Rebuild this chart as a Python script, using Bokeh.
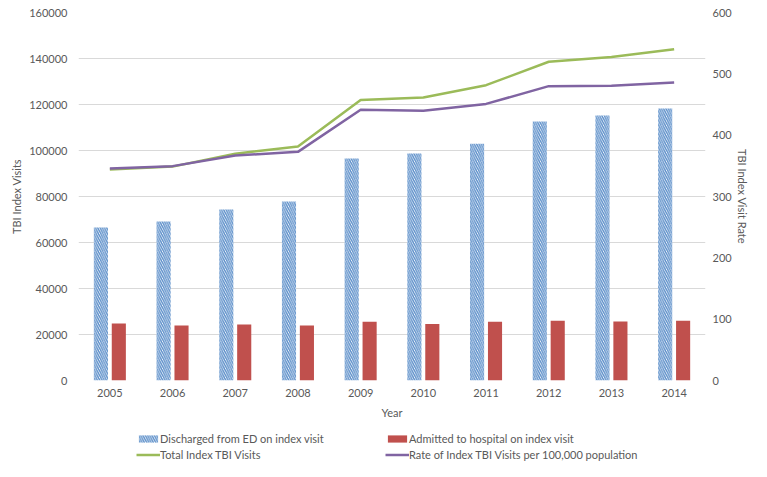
import numpy as np
from bokeh.plotting import figure
from bokeh.layouts import column
from bokeh.models import (FactorRange, Range1d, LinearAxis, Legend, LegendItem,
                          ColumnDataSource, FixedTicker, NumeralTickFormatter)
from bokeh.transform import dodge
from bokeh.embed import file_html
from bokeh.resources import INLINE

years = ["2005", "2006", "2007", "2008", "2009", "2010", "2011", "2012", "2013", "2014"]
discharged = [66500, 69100, 74300, 77800, 96500, 98700, 102900, 112600, 115200, 118300]
admitted = [24800, 23900, 24300, 23900, 25500, 24600, 25500, 26000, 25600, 26000]
total = [91700, 93000, 98600, 101700, 122000, 123000, 128400, 138600, 140700, 144000]
rate = [345.7, 349.5, 366.9, 372.8, 441.3, 439.7, 451.0, 479.9, 480.4, 485.9]
left_ticks = [0, 20000, 40000, 60000, 80000, 100000, 120000, 140000, 160000]
right_ticks = [0, 100, 200, 300, 400, 500, 600]

FONT = "Lato"
GREY = "#595959"
BLUE = "#5b8ec9"
RED = "#c0504d"
GREEN = "#9bbb59"
PURPLE = "#8064a2"

src = ColumnDataSource(dict(year=years, discharged=discharged, admitted=admitted,
                            total=total, rate=rate))

p = figure(width=751, height=425, x_range=FactorRange(factors=years),
           y_range=Range1d(0, 160000), output_backend="svg", toolbar_location=None,
           min_border_left=78, min_border_right=43, min_border_top=12, min_border_bottom=45)
p.extra_y_ranges = {"rate": Range1d(0, 600)}
p.outline_line_color = None
p.xgrid.grid_line_color = None
p.ygrid.grid_line_color = "#d9d9d9"
p.ygrid.ticker = FixedTicker(ticks=left_ticks)

bar_style1 = dict(fill_color="white", line_color=None, hatch_pattern="left_diagonal_line",
                  hatch_color=BLUE, hatch_scale=4.5, hatch_weight=1.4)
bar_style2 = dict(fill_color=RED, line_color=None)

b1 = p.vbar(x=dodge("year", -0.143, range=p.x_range), top="discharged", width=0.225,
            source=src, **bar_style1)
b2 = p.vbar(x=dodge("year", 0.143, range=p.x_range), top="admitted", width=0.225,
            source=src, **bar_style2)
l1 = p.line(x="year", y="total", source=src, line_color=GREEN, line_width=2.5)
l2 = p.line(x="year", y="rate", source=src, line_color=PURPLE, line_width=2.5,
            y_range_name="rate")

ra = LinearAxis(y_range_name="rate", ticker=FixedTicker(ticks=right_ticks),
                axis_label="TBI Index Visit Rate")
p.add_layout(ra, "right")

p.yaxis[0].ticker = FixedTicker(ticks=left_ticks)
p.yaxis[0].formatter = NumeralTickFormatter(format="0")
p.yaxis[0].axis_label = "TBI Index Visits"
p.xaxis.axis_label = "Year"

for ax in [p.xaxis[0], p.yaxis[0], ra]:
    ax.axis_line_color = None
    ax.major_tick_line_color = None
    ax.minor_tick_line_color = None
    ax.major_tick_out = 0
    ax.major_tick_in = 0
    ax.major_label_text_color = GREY
    ax.major_label_text_font = FONT
    ax.major_label_text_font_size = "11px"
    ax.axis_label_text_color = GREY
    ax.axis_label_text_font = FONT
    ax.axis_label_text_font_size = "11px"
    ax.axis_label_text_font_style = "normal"

p.yaxis[0].major_label_standoff = 11
p.yaxis[0].axis_label_standoff = 3
ra.major_label_standoff = 7
ra.axis_label_standoff = 1
p.xaxis[0].major_label_standoff = 8
p.xaxis[0].axis_label_standoff = 6

# legend strip below the chart (its frame aligns with the chart frame)
lf = figure(width=751, height=36, x_range=Range1d(0, 1), y_range=Range1d(0, 1),
            output_backend="svg", toolbar_location=None, min_border=0,
            x_axis_type=None, y_axis_type=None)
lf.outline_line_color = None
lf.grid.grid_line_color = None
proxy = ColumnDataSource(dict(x=np.array([np.nan]), top=np.array([np.nan]),
                              y=np.array([np.nan])))
d1 = lf.vbar(x="x", top="top", width=0.1, source=proxy, **bar_style1)
d2 = lf.vbar(x="x", top="top", width=0.1, source=proxy, **bar_style2)
d3 = lf.line(x="x", y="y", source=proxy, line_color=GREEN, line_width=2.5)
d4 = lf.line(x="x", y="y", source=proxy, line_color=PURPLE, line_width=2.5)

legend = Legend(items=[
    LegendItem(label="Discharged from ED on index visit", renderers=[d1]),
    LegendItem(label="Admitted to hospital on index visit", renderers=[d2]),
    LegendItem(label="Total Index TBI Visits", renderers=[d3]),
    LegendItem(label="Rate of Index TBI Visits per 100,000 population", renderers=[d4]),
], orientation="horizontal", ncols=2)
legend.location = (58, 0)
legend.label_text_font = FONT
legend.label_text_font_size = "11px"
legend.label_text_color = GREY
legend.background_fill_alpha = 0
legend.border_line_color = None
legend.padding = 0
legend.margin = 0
legend.spacing = 3
legend.glyph_width = 24
legend.glyph_height = 9
legend.label_height = 13
legend.label_standoff = 0
legend.label_width = 222
lf.add_layout(legend)

layout = column(p, lf, spacing=0)
open("out.html", "w").write(file_html(layout, INLINE))
